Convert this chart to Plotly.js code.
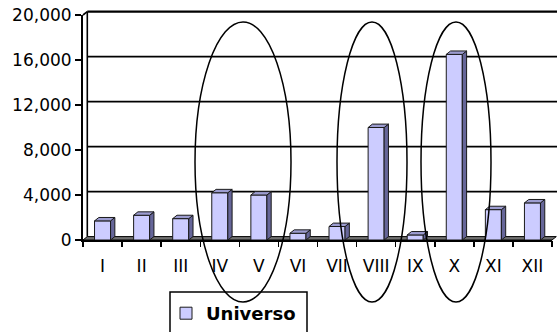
<!DOCTYPE html>
<html><head><meta charset="utf-8">
<script src="https://cdn.plot.ly/plotly-3.0.1.min.js"></script>
<style>html,body{margin:0;padding:0;background:#fff;} #chart{width:557px;height:332px;}</style>
</head><body><div id="chart"></div>
<script>
// ---- data ----
const categories = ['I','II','III','IV','V','VI','VII','VIII','IX','X','XI','XII'];
const values = [1700, 2200, 1900, 4200, 4000, 600, 1200, 10000, 450, 16500, 2700, 3300];
const yTicks = [0, 4000, 8000, 12000, 16000, 20000];
const seriesName = 'Universo';

// ---- geometry ----
const W = 557, H = 332, L = 83, R = 5, T = 15, B = 92;
const plotW = W - L - R, plotH = H - T - B;
const yMax = 20000;
const depthX = 4.3, depthY = 3.4;   // px, pseudo-3D depth
const barWidth = 0.41;
const idx = categories.map((c, i) => i);
const boundaries = categories.map((c, i) => i - 0.5).concat([categories.length - 0.5]);
const dxU = depthX / (plotW / categories.length);
const dyU = depthY / plotH * yMax;

const px = x => (x - L) / plotW;
const py = y => (H - B - y) / plotH;

const sideX = [], sideY = [], topX = [], topY = [];
values.forEach((v, i) => {
  const l = i - barWidth / 2, r = i + barWidth / 2;
  sideX.push(r, r + dxU, r + dxU, r, r, null);
  sideY.push(0, dyU, v + dyU, v, 0, null);
  topX.push(l, r, r + dxU, l + dxU, l, null);
  topY.push(v, v, v + dyU, v + dyU, v, null);
});

const FONT = 'DejaVu Sans';
const lineCol = '#1a1a1a';

const traces = [
  {type: 'bar', x: idx, y: values, width: barWidth, name: seriesName,
   marker: {color: '#CCCCFF', line: {color: lineCol, width: 1}}, hoverinfo: 'skip'},
  {type: 'scatter', x: sideX, y: sideY, mode: 'lines', fill: 'toself', fillcolor: '#666699',
   line: {color: lineCol, width: 1}, showlegend: false, hoverinfo: 'skip'},
  {type: 'scatter', x: topX, y: topY, mode: 'lines', fill: 'toself', fillcolor: '#9C9CD0',
   line: {color: lineCol, width: 1}, showlegend: false, hoverinfo: 'skip'},
  {type: 'scatter', x: [boundaries[0]], y: [0], xaxis: 'x2', mode: 'markers',
   marker: {opacity: 0}, showlegend: false, hoverinfo: 'skip'}
];

const shapes = [];
// floor
shapes.push({type: 'path', xref: 'paper', yref: 'paper', layer: 'below',
  path: `M${px(L)},${py(H-B)} L${px(W-R)},${py(H-B)} L${px(W-R+depthX)},${py(H-B-depthY)} L${px(L+depthX)},${py(H-B-depthY)} Z`,
  fillcolor: '#707070', line: {color: '#000', width: 1}});
// back-wall gridlines
yTicks.forEach(t => {
  if (t === 0) return;
  const yp = t / yMax + depthY / plotH;
  shapes.push({type: 'line', xref: 'paper', yref: 'paper', layer: 'below',
    x0: px(L + depthX), x1: px(W), y0: yp, y1: yp,
    line: {color: '#000', width: t === yMax ? 2.2 : 1.6}});
});
// back wall left edge and top corner
shapes.push({type: 'line', xref: 'paper', yref: 'paper', layer: 'below',
  x0: px(L + depthX), x1: px(L + depthX), y0: py(H - B - depthY), y1: 1 + depthY / plotH,
  line: {color: '#000', width: 1.6}});
shapes.push({type: 'line', xref: 'paper', yref: 'paper', layer: 'below',
  x0: px(L), x1: px(L + depthX), y0: 1, y1: 1 + depthY / plotH,
  line: {color: '#000', width: 1.6}});
// ellipses
[[195, 291], [337, 407], [421, 491]].forEach(([a, b]) => {
  shapes.push({type: 'circle', xref: 'paper', yref: 'paper', layer: 'above',
    x0: px(a), x1: px(b), y0: py(302), y1: py(22),
    line: {color: '#000', width: 1.5}, fillcolor: 'rgba(0,0,0,0)'});
});
// legend frame
shapes.push({type: 'rect', xref: 'paper', yref: 'paper', layer: 'above',
  x0: px(170), x1: px(307), y0: py(345), y1: py(292),
  line: {color: '#000', width: 1.5}, fillcolor: 'rgba(0,0,0,0)'});

const layout = {
  width: W, height: H,
  margin: {l: L, r: R, t: T, b: B, pad: 0, autoexpand: false},
  paper_bgcolor: '#fff', plot_bgcolor: 'rgba(0,0,0,0)',
  showlegend: true,
  legend: {x: px(166), xanchor: 'left', y: py(295), yanchor: 'top',
    bgcolor: 'rgba(0,0,0,0)', borderwidth: 0,
    font: {family: FONT, size: 18, color: '#000', weight: 'bold'}},
  xaxis: {range: [-0.5, categories.length - 0.5], tickvals: idx, ticktext: categories,
    ticks: '', showgrid: false, zeroline: false, showline: true, linecolor: '#000', linewidth: 2,
    tickfont: {family: FONT, size: 17, color: '#000'}, ticklabelstandoff: 10, fixedrange: true},
  xaxis2: {overlaying: 'x', anchor: 'y', side: 'bottom', range: [-0.5, categories.length - 0.5],
    tickvals: boundaries, ticks: 'outside', ticklen: 6, tickwidth: 1.5, tickcolor: '#000',
    showticklabels: false, showgrid: false, zeroline: false, showline: false},
  yaxis: {range: [0, yMax], tickvals: yTicks, tickformat: ',d', ticks: 'outside', ticklen: 6,
    tickwidth: 1.5, tickcolor: '#000', showgrid: false, zeroline: false,
    showline: true, linecolor: '#000', linewidth: 2,
    tickfont: {family: FONT, size: 17, color: '#000'}, fixedrange: true},
  shapes: shapes,
  bargap: 0
};

Plotly.newPlot('chart', traces, layout, {staticPlot: true, displayModeBar: false});
</script>
</body></html>
